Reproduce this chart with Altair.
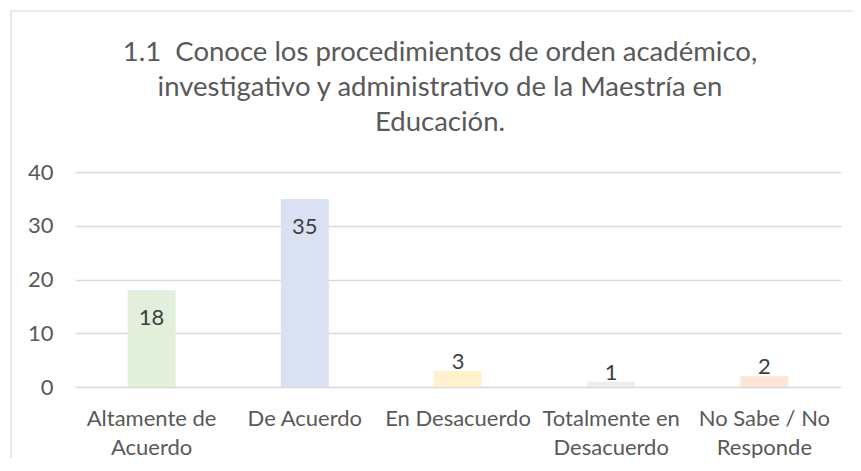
import altair as alt
import pandas as pd

categories = ["Altamente de Acuerdo", "De Acuerdo", "En Desacuerdo",
              "Totalmente en Desacuerdo", "No Sabe / No Responde"]
values = [18, 35, 3, 1, 2]
colors = ["#E2EFDA", "#D9E1F2", "#FFF2CC", "#EDEDED", "#FCE4D6"]
label_lines = [["Altamente de", "Acuerdo"], ["De Acuerdo"], ["En Desacuerdo"],
               ["Totalmente en", "Desacuerdo"], ["No Sabe / No", "Responde"]]
title_lines = ["1.1\u00a0 Conoce los procedimientos de orden académico,",
               "investigativo y administrativo de la Maestría en",
               "Educación."]
y_ticks = [0, 10, 20, 30, 40]

df = pd.DataFrame({"cat": categories, "val": values})

FONT = "Lato"
TEXT = "#595959"
GRID = "#D9D9D9"

# label expression for wrapped axis labels
expr = "[]"
for c, lines in reversed(list(zip(categories, label_lines))):
    arr = "[" + ",".join("'" + l + "'" for l in lines) + "]"
    expr = f"datum.value === '{c}' ? {arr} : ({expr})"

x = alt.X("cat:N", sort=categories, title=None,
          scale=alt.Scale(paddingInner=0.687, paddingOuter=0.3435),
          axis=alt.Axis(labelExpr=expr, labelAngle=0, ticks=False, tickSize=0,
                        domain=False, labelPadding=38, labelBaseline="alphabetic",
                        labelLineHeight=29, labelFont=FONT, labelFontSize=22,
                        labelColor=TEXT, grid=False))
y = alt.Y("val:Q", title=None,
          scale=alt.Scale(domain=[0, 40], nice=False),
          axis=alt.Axis(values=y_ticks, ticks=False, tickSize=0, domain=False,
                        labelPadding=22, labelFont=FONT, labelFontSize=22,
                        labelColor=TEXT, gridColor=GRID, gridWidth=1.3))

frame_df = pd.DataFrame({"a": [0]})
border_top = alt.Chart(frame_df).mark_rule(
    stroke=GRID, strokeWidth=1.2, clip=False
).encode(x=alt.value(-64), x2=alt.value(900), y=alt.value(-161))
border_left = alt.Chart(frame_df).mark_rule(
    stroke=GRID, strokeWidth=1.2, clip=False
).encode(x=alt.value(-64), y=alt.value(-161), y2=alt.value(400))

bars = alt.Chart(df).mark_bar().encode(
    x=x, y=y,
    color=alt.Color("cat:N", sort=categories,
                    scale=alt.Scale(domain=categories, range=colors), legend=None),
)

lab_in = alt.Chart(df).transform_filter("datum.val >= 10").mark_text(
    font=FONT, fontSize=22, color="#404040", dy=35, baseline="alphabetic"
).encode(x=alt.X("cat:N", sort=categories), y="val:Q", text="val:Q")

lab_out = alt.Chart(df).transform_filter("datum.val < 10").mark_text(
    font=FONT, fontSize=22, color="#404040", dy=-2, baseline="alphabetic"
).encode(x=alt.X("cat:N", sort=categories), y="val:Q", text="val:Q")

chart = alt.layer(border_top, border_left, bars, lab_in, lab_out).properties(
    width=766, height=215,
    title=alt.TitleParams(text=title_lines, font=FONT, fontSize=27.5, fontWeight="normal",
                          color=TEXT, lineHeight=35, anchor="middle", frame="group",
                          baseline="alphabetic", dx=-18, offset=-148),
    autosize=alt.AutoSizeParams(type="none"),
    padding={"left": 67, "top": 164, "right": 12, "bottom": 71},
).configure(background="white").configure_view(stroke=None)

chart.save("out.html", embed_options={"renderer": "svg", "actions": False})
